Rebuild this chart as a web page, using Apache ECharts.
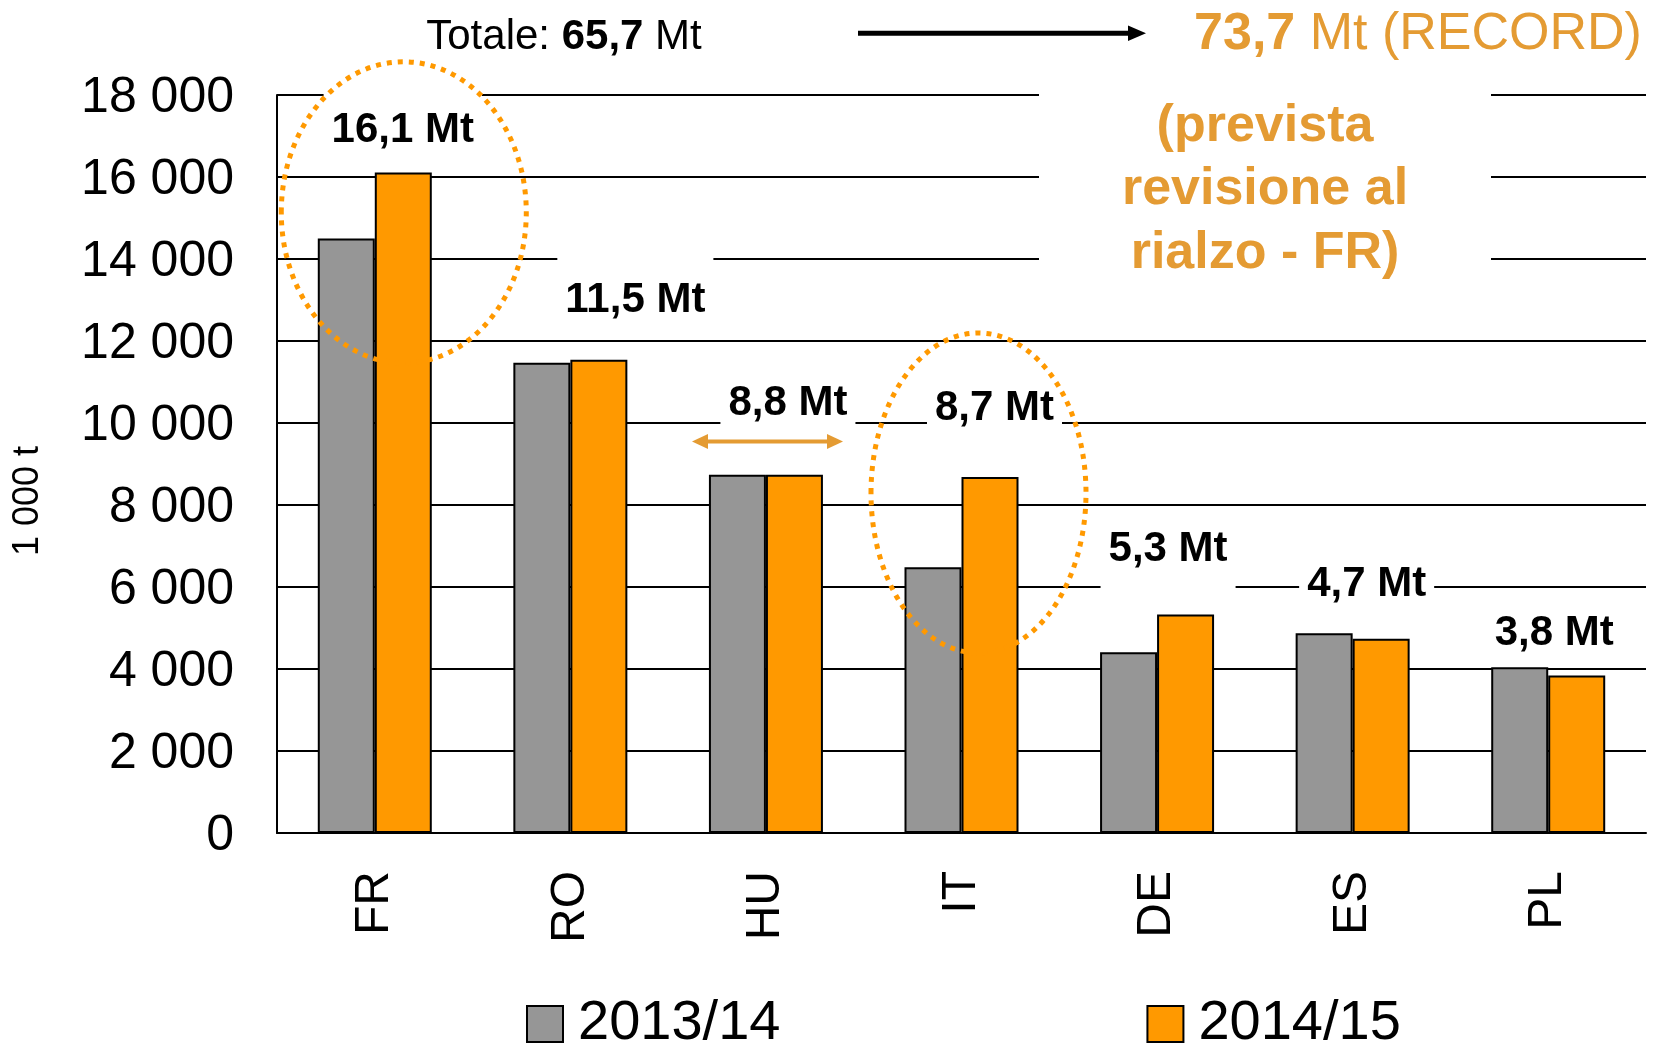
<!DOCTYPE html>
<html>
<head>
<meta charset="utf-8">
<title>Produzione mais UE</title>
<script src="https://cdn.jsdelivr.net/npm/echarts@6/dist/echarts.min.js"></script>
<style>
  html, body { margin: 0; padding: 0; background: #fff; }
  #chart { width: 1653px; height: 1045px; }
</style>
</head>
<body>
<div id="chart"></div>
<script>
// dati (1 000 t)
const categories = ['FR', 'RO', 'HU', 'IT', 'DE', 'ES', 'PL']
const seriesNames = ['2013/14', '2014/15']
const values1314 = [14500, 11470, 8740, 6480, 4410, 4870, 4040]
const values1415 = [16110, 11540, 8740, 8680, 5330, 4740, 3840]
const yTicks = [0, 2000, 4000, 6000, 8000, 10000, 12000, 14000, 16000, 18000]

// etichette sopra le barre e quota (in 1 000 t) a cui stanno
const noteTexts = ['16,1 Mt', '11,5 Mt', '8,8 Mt', '8,7 Mt', '5,3 Mt', '4,7 Mt', '3,8 Mt']
const noteLevels = [17205, 13075, 10546, 10440, 7000, 6146, 4951]

// posizionamento etichette (px)
const noteDx = [28, 65, 22, 33, 11, 14, 6]
const notePad = [
  [18, 8, 4, 8],
  [22, 8, 4, 8],
  [4, 8, 9, 8],
  [4, 8, 8, 8],
  [4, 8, 25, 8],
  [4, 8, 6, 8],
  [4, 8, 4, 8]
]

const FONT = "'Liberation Sans', Arial, sans-serif"
const ORANGE_TXT = '#E49B33'
const DOT = '#FF9900'
const TY = 3 // correzione verticale del testo
const NOTE_SIZE = 42

const fmtThousands = v => String(v).replace(/\B(?=(\d{3})+(?!\d))/g, ' ')

const chart = echarts.init(document.getElementById('chart'))

chart.setOption({
  animation: false,
  backgroundColor: '#fff',
  grid: { left: 277, right: 7, top: 95, bottom: 212 },
  legend: {
    left: 526,
    top: 996,
    padding: 0,
    itemGap: 366,
    itemWidth: 36,
    itemHeight: 36,
    icon: 'rect',
    itemStyle: { borderColor: '#000', borderWidth: 2 },
    textStyle: { fontSize: 56, color: '#000', fontFamily: FONT, padding: [4, 0, 0, 10] }
  },
  xAxis: {
    type: 'category',
    data: categories,
    axisLine: { lineStyle: { color: '#000', width: 2 } },
    axisTick: { show: false },
    axisLabel: { rotate: 90, margin: 38, fontSize: 48, color: '#000', fontFamily: FONT }
  },
  yAxis: {
    type: 'value',
    min: yTicks[0],
    max: yTicks[yTicks.length - 1],
    interval: yTicks[1] - yTicks[0],
    axisLine: { show: true, lineStyle: { color: '#000', width: 2 } },
    axisTick: { show: false },
    splitLine: { lineStyle: { color: '#000', width: 2 } },
    axisLabel: {
      margin: 43,
      formatter: v => '{v|' + fmtThousands(v) + '}',
      rich: {
        v: { fontSize: 50, color: '#000', fontFamily: FONT, padding: [6, 0, 0, 0] }
      }
    }
  },
  series: [{
    name: seriesNames[0],
    type: 'bar',
    data: values1314,
    barWidth: 57,
    barGap: '0%',
    itemStyle: { color: '#969696', borderColor: '#000', borderWidth: 2 }
  }, {
    name: seriesNames[1],
    type: 'bar',
    data: values1415,
    barWidth: 57,
    barGap: '0%',
    itemStyle: { color: '#FF9900', borderColor: '#000', borderWidth: 2 }
  }]
})

const px = (i, v) => chart.convertToPixel({ gridIndex: 0 }, [i, v])

const graphics = []

// etichette "x,x Mt" con fondo bianco (riquadro che interrompe la griglia)
noteTexts.forEach((t, i) => {
  const p = px(i, noteLevels[i])
  const pad = notePad[i]
  graphics.push({
    type: 'text',
    z: 5,
    style: {
      text: t,
      x: p[0] + noteDx[i],
      y: p[1] + TY - pad[0] - NOTE_SIZE / 2,
      font: 'bold ' + NOTE_SIZE + 'px ' + FONT,
      fill: '#000',
      align: 'center',
      verticalAlign: 'top',
      backgroundColor: '#fff',
      padding: pad
    }
  })
})

// ellissi tratteggiate su FR e IT
const frC = px(0, 15137)
const itC = px(3, 8293)
graphics.push({
  type: 'ellipse',
  z: 10,
  shape: { cx: frC[0] + 29, cy: frC[1], rx: 122.5, ry: 150.6 },
  style: { fill: 'none', stroke: DOT, lineWidth: 5, lineDash: [5, 6] }
})
graphics.push({
  type: 'ellipse',
  z: 10,
  shape: { cx: itC[0] + 17, cy: itC[1], rx: 107.5, ry: 160 },
  style: { fill: 'none', stroke: DOT, lineWidth: 5, lineDash: [5, 6] }
})

// testo in alto
graphics.push({
  type: 'text',
  z: 5,
  style: {
    text: '{a|Totale: }{b|65,7}{a| Mt}',
    x: 564,
    y: 34 + TY,
    align: 'center',
    verticalAlign: 'middle',
    rich: {
      a: { font: '42px ' + FONT, fill: '#000' },
      b: { font: 'bold 42px ' + FONT, fill: '#000' }
    }
  }
})
graphics.push({
  type: 'line',
  z: 5,
  shape: { x1: 858, y1: 33.3, x2: 1132, y2: 33.3 },
  style: { stroke: '#000', lineWidth: 5 }
})
graphics.push({
  type: 'polygon',
  z: 5,
  shape: { points: [[1128, 25.5], [1146, 33.3], [1128, 41]] },
  style: { fill: '#000' }
})
graphics.push({
  type: 'text',
  z: 5,
  style: {
    text: '{b|73,7}{a| Mt (RECORD)}',
    x: 1418,
    y: 32 + TY,
    align: 'center',
    verticalAlign: 'middle',
    rich: {
      a: { font: '52px ' + FONT, fill: ORANGE_TXT },
      b: { font: 'bold 52px ' + FONT, fill: ORANGE_TXT }
    }
  }
})

// riquadro "(prevista revisione al rialzo - FR)"
graphics.push({
  type: 'rect',
  z: 4,
  shape: { x: 1039, y: 84, width: 452, height: 186 },
  style: { fill: '#fff' }
})
graphics.push({
  type: 'text',
  z: 5,
  style: {
    text: '(prevista\nrevisione al\nrialzo - FR)',
    x: 1265,
    y: 190,
    align: 'center',
    verticalAlign: 'middle',
    lineHeight: 63.5,
    font: 'bold 52px ' + FONT,
    fill: ORANGE_TXT
  }
})

// freccia doppia HU
graphics.push({
  type: 'line',
  z: 6,
  shape: { x1: 700, y1: 441.5, x2: 835, y2: 441.5 },
  style: { stroke: ORANGE_TXT, lineWidth: 4 }
})
graphics.push({
  type: 'polygon',
  z: 6,
  shape: { points: [[692, 441.5], [708, 434], [708, 449]] },
  style: { fill: ORANGE_TXT }
})
graphics.push({
  type: 'polygon',
  z: 6,
  shape: { points: [[843, 441.5], [827, 434], [827, 449]] },
  style: { fill: ORANGE_TXT }
})

// unita' asse y
graphics.push({
  type: 'text',
  z: 5,
  x: 28.5,
  y: 501,
  rotation: Math.PI / 2,
  style: {
    text: '1 000 t',
    align: 'center',
    verticalAlign: 'middle',
    font: '36px ' + FONT,
    fill: '#000'
  }
})

chart.setOption({ graphic: graphics })
</script>
</body>
</html>
